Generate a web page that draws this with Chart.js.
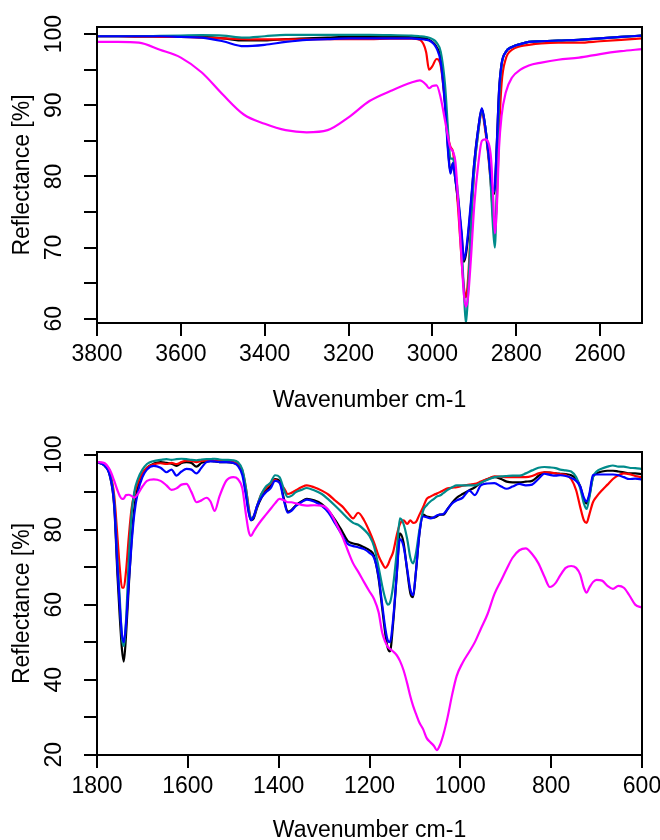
<!DOCTYPE html>
<html lang="en">
<head>
<meta charset="utf-8"/>
<title>Reflectance spectra</title>
<script src="https://cdn.jsdelivr.net/npm/chart.js@4"></script>
<style>
  html, body { margin: 0; padding: 0; background: #fff; overflow: hidden; }
  body { width: 660px; height: 840px; position: relative; }
  canvas { position: absolute; left: 0; }
  #topChart { top: 0; }
  #bottomChart { top: 420px; }
</style>
</head>
<body>
<canvas id="topChart" width="660" height="420"></canvas>
<canvas id="bottomChart" width="660" height="440"></canvas>
<script>
// ---- upper panel: C-H stretch region ----
const topWavenumbers = [3800, 3750, 3700, 3650, 3600, 3550, 3500, 3450, 3400, 3350,
  3300, 3250, 3200, 3150, 3100, 3050, 3030, 3015, 3008, 3000,
  2990, 2980, 2970, 2962, 2957, 2951, 2945, 2938, 2930, 2925,
  2920, 2915, 2908, 2900, 2890, 2882, 2874, 2866, 2860, 2855,
  2851, 2846, 2841, 2835, 2825, 2810, 2790, 2770, 2740, 2700,
  2650, 2600, 2550, 2500];
const topBlack = [99.7, 99.7, 99.7, 99.7, 99.7, 99.6, 99.4, 99.1, 99.1, 99.3,
  99.4, 99.5, 99.6, 99.6, 99.6, 99.6, 99.5, 99.4, 99.2, 98.9,
  98.2, 96.5, 90.5, 83.5, 80.6, 81.8, 79.5, 76.0, 71.5, 68.0,
  69.0, 71.5, 76.0, 82.0, 87.0, 89.5, 87.0, 83.0, 79.5, 77.5,
  78.5, 85.0, 92.0, 95.8, 97.5, 98.2, 98.6, 98.9, 99.0, 99.1,
  99.2, 99.4, 99.6, 99.8];
const topRed = [99.7, 99.7, 99.6, 99.6, 99.6, 99.5, 99.4, 99.3, 99.25, 99.25,
  99.25, 99.3, 99.3, 99.3, 99.35, 99.35, 99.2, 97.5, 95.0, 95.5,
  96.5, 95.5, 90.5, 85.5, 84.2, 83.5, 80.5, 75.0, 68.0, 64.5,
  63.0, 65.5, 73.0, 81.0, 86.5, 89.0, 86.5, 82.5, 78.5, 74.0,
  72.8, 77.0, 86.0, 93.0, 96.5, 97.8, 98.3, 98.5, 98.7, 98.8,
  98.8, 99.0, 99.2, 99.4];
const topTeal = [99.7, 99.7, 99.7, 99.75, 99.8, 99.85, 99.8, 99.5, 99.7, 99.9,
  99.9, 99.9, 99.9, 99.9, 99.85, 99.8, 99.7, 99.6, 99.5, 99.3,
  98.8, 97.5, 93.0, 86.0, 82.5, 82.5, 80.5, 77.0, 70.0, 64.0,
  59.3, 63.5, 73.0, 81.0, 86.5, 89.3, 87.0, 83.0, 78.0, 72.5,
  70.0, 79.0, 90.5, 95.5, 97.5, 98.2, 98.6, 98.9, 99.0, 99.1,
  99.2, 99.4, 99.6, 99.8];
const topBlue = [99.7, 99.7, 99.7, 99.7, 99.6, 99.5, 99.0, 98.3, 98.5, 98.9,
  99.2, 99.3, 99.4, 99.4, 99.4, 99.4, 99.3, 99.2, 99.1, 98.8,
  98.0, 96.0, 90.0, 83.0, 80.4, 81.9, 79.5, 76.5, 72.0, 68.3,
  69.5, 72.0, 76.5, 82.0, 87.0, 89.6, 87.0, 83.0, 79.5, 77.8,
  78.8, 85.0, 92.0, 95.8, 97.5, 98.2, 98.6, 98.9, 99.0, 99.1,
  99.2, 99.4, 99.6, 99.8];
const topMagenta = [98.9, 98.9, 98.8, 97.8, 96.7, 94.6, 91.5, 88.7, 87.4, 86.5,
  86.2, 86.5, 88.3, 90.6, 92.0, 93.2, 93.5, 92.9, 92.4, 92.7,
  92.8, 91.0, 87.9, 85.3, 84.0, 83.5, 82.0, 76.0, 68.0, 63.5,
  61.7, 63.0, 68.5, 76.0, 82.0, 85.0, 85.2, 84.7, 82.5, 77.0,
  72.0, 76.0, 84.0, 88.5, 91.8, 93.9, 95.0, 95.6, 96.0, 96.4,
  96.7, 97.2, 97.6, 97.9];
const topXTicks = [3800, 3600, 3400, 3200, 3000, 2800, 2600];
const topYTicks = [60, 65, 70, 75, 80, 85, 90, 95, 100];
const topYLabels = [60, 70, 80, 90, 100];

// ---- lower panel: fingerprint region ----
const bottomWavenumbers = [1800, 1785, 1772, 1762, 1755, 1750, 1745, 1741, 1736, 1730,
  1724, 1718, 1710, 1700, 1690, 1675, 1660, 1647, 1636, 1625,
  1614, 1603, 1592, 1581, 1570, 1559, 1550, 1541, 1530, 1515,
  1500, 1490, 1480, 1472, 1466, 1461, 1455, 1447, 1438, 1428,
  1418, 1408, 1398, 1388, 1380, 1372, 1362, 1350, 1338, 1322,
  1305, 1290, 1275, 1260, 1248, 1236, 1225, 1212, 1200, 1190,
  1180, 1172, 1165, 1160, 1155, 1148, 1140, 1133, 1125, 1117,
  1110, 1104, 1098, 1090, 1082, 1074, 1066, 1058, 1052, 1045,
  1037, 1028, 1018, 1008, 995, 980, 968, 955, 940, 925,
  910, 898, 885, 870, 856, 842, 828, 815, 803, 790,
  780, 768, 756, 745, 736, 728, 722, 716, 708, 700,
  688, 676, 664, 652, 640, 628, 615, 600];
const bottomBlack = [98.0, 97.2, 94.5, 86.0, 68.0, 57.0, 48.0, 44.8, 52.0, 65.0,
  77.0, 85.5, 91.5, 94.8, 96.5, 97.6, 98.0, 97.8, 97.6, 97.0,
  97.8, 98.0, 97.8, 96.8, 97.8, 98.2, 98.3, 98.2, 98.0, 98.0,
  97.8, 97.3, 95.5, 90.0, 85.0, 82.5, 83.0, 86.0, 88.5, 90.5,
  91.5, 93.5, 93.0, 88.0, 84.8, 85.2, 86.5, 87.5, 88.2, 87.8,
  86.8, 85.0, 82.5, 79.5, 77.0, 76.3, 76.0, 75.3, 74.5, 73.0,
  67.0, 59.0, 52.0, 48.5, 47.5, 55.0, 68.0, 79.0, 76.5, 69.0,
  63.0, 62.0, 68.5, 79.0, 84.0, 83.5, 83.3, 83.2, 83.5, 84.0,
  84.0, 85.5, 87.2, 88.5, 89.5, 90.5, 91.3, 92.5, 93.5, 94.0,
  93.5, 92.8, 92.6, 92.6, 92.8, 93.0, 94.3, 95.3, 95.2, 95.0,
  94.9, 94.8, 94.5, 93.5, 91.5, 88.0, 87.0, 89.0, 94.0, 95.0,
  95.5, 95.7, 95.7, 95.5, 95.3, 95.0, 95.0, 94.8];
const bottomRed = [98.0, 97.5, 95.5, 89.0, 78.0, 70.0, 64.5, 64.5, 69.0, 78.0,
  85.5, 89.5, 92.5, 95.0, 96.5, 97.4, 97.7, 97.5, 97.8, 97.5,
  98.0, 98.4, 98.3, 98.0, 98.3, 98.4, 98.5, 98.4, 98.3, 98.2,
  98.0, 97.5, 95.8, 91.0, 86.0, 83.0, 83.5, 86.5, 89.5, 91.0,
  92.3, 93.3, 92.5, 91.0, 89.5, 89.8, 90.5, 91.3, 91.8, 91.3,
  90.4, 89.3, 87.7, 86.2, 84.5, 83.0, 84.5, 82.5, 79.5, 76.5,
  73.0, 71.0, 69.8, 70.5, 72.0, 74.0, 78.5, 81.5, 82.5, 81.5,
  82.5, 81.8, 82.0, 84.0, 86.0, 88.2, 88.8, 89.3, 89.6, 90.0,
  90.5, 91.0, 91.2, 91.3, 91.7, 92.0, 92.2, 92.8, 93.5, 94.2,
  94.1, 94.0, 94.0, 94.0, 94.0, 94.3, 95.0, 95.3, 95.2, 95.0,
  94.8, 94.6, 93.5, 90.5, 86.0, 82.5, 81.8, 84.0, 87.3, 88.8,
  90.5, 92.0, 93.5, 94.5, 95.0, 94.8, 94.3, 94.0];
const bottomTeal = [98.0, 97.3, 95.0, 87.5, 72.0, 62.0, 51.0, 49.0, 56.0, 72.0,
  84.0, 90.0, 93.5, 96.0, 97.5, 98.3, 98.6, 98.8, 98.6, 98.8,
  98.9, 98.8, 98.6, 98.5, 98.7, 98.8, 98.8, 98.9, 98.7, 98.6,
  98.5, 98.0, 96.0, 91.0, 85.5, 83.0, 83.5, 86.5, 89.5, 91.5,
  92.5, 94.5, 94.0, 90.5, 88.7, 89.0, 90.0, 90.6, 91.1, 90.5,
  89.5, 88.0, 86.3, 84.5, 83.0, 81.8, 81.3, 80.0, 78.3, 75.5,
  70.0, 65.0, 61.5, 60.0, 60.5, 65.0, 74.0, 83.0, 81.5, 77.5,
  72.5, 71.0, 73.5, 80.0, 85.0, 86.5, 87.5, 88.2, 88.8, 89.1,
  89.8, 90.6, 91.3, 91.8, 91.8, 91.8, 91.8, 92.5, 93.3, 94.0,
  94.2, 94.3, 94.4, 94.4, 95.0, 95.8, 96.5, 96.7, 96.6, 96.4,
  96.0, 95.8, 95.5, 94.0, 91.0, 87.0, 85.5, 88.5, 94.0, 95.5,
  96.3, 96.8, 97.1, 96.8, 96.8, 96.5, 96.4, 96.2];
const bottomBlue = [98.0, 97.2, 94.5, 86.5, 70.0, 60.0, 52.0, 50.0, 55.0, 66.0,
  76.0, 84.0, 90.0, 94.0, 96.0, 97.0, 96.5, 95.3, 96.0, 94.4,
  95.5, 96.2, 96.0, 95.0, 96.5, 98.0, 98.2, 98.2, 98.0, 98.0,
  97.8, 97.0, 94.5, 89.0, 84.5, 82.5, 83.5, 86.5, 88.5, 90.0,
  91.0, 93.0, 92.5, 87.5, 84.5, 85.0, 86.3, 87.3, 88.0, 87.5,
  86.3, 84.5, 81.5, 78.5, 76.2, 75.6, 75.3, 74.8, 73.8, 72.5,
  67.5, 60.0, 53.5, 50.5, 50.0, 56.0, 68.0, 77.5, 75.5, 69.5,
  64.0, 62.5, 68.5, 79.0, 83.5, 83.3, 83.0, 83.3, 83.8, 84.0,
  84.2, 85.5, 87.0, 87.8, 88.5, 90.4, 89.2, 91.8, 92.3, 92.4,
  91.5, 90.9, 91.5, 92.2, 91.8, 92.0, 93.5, 94.9, 94.6, 94.4,
  94.5, 94.3, 93.8, 93.0, 91.5, 88.5, 87.5, 89.5, 94.5, 94.7,
  94.7, 94.7, 94.7, 94.5, 94.0, 93.5, 93.6, 93.4];
const bottomMagenta = [98.0, 97.8, 96.0, 93.0, 90.5, 89.0, 88.2, 88.3, 89.2, 89.3,
  89.0, 88.5, 89.5, 91.5, 93.0, 93.4, 93.0, 91.8, 90.6, 91.0,
  92.0, 92.2, 90.0, 87.3, 87.8, 88.5, 87.5, 85.0, 89.0, 93.1,
  94.0, 93.5, 91.0, 84.0, 79.5, 78.3, 79.5, 81.0, 82.5, 84.0,
  85.5, 87.0, 88.2, 87.8, 87.3, 87.3, 87.0, 86.6, 86.4, 86.5,
  86.4, 85.2, 82.0, 78.2, 74.5, 71.0, 68.8, 66.0, 63.5, 61.5,
  58.0, 52.5, 50.0, 48.8, 48.2, 47.5, 46.5, 45.0, 42.5, 39.0,
  35.5, 33.0, 31.0, 28.5, 26.8, 24.4, 23.3, 22.3, 21.2, 22.5,
  25.5, 30.0, 36.0, 41.0, 44.5, 47.5, 50.0, 53.5, 57.5, 62.8,
  66.5, 69.5, 72.5, 74.5, 75.0, 73.5, 71.0, 67.5, 64.7, 65.8,
  67.8, 69.8, 70.3, 69.8, 68.0, 64.5, 63.2, 64.5, 66.0, 66.6,
  66.4, 65.0, 64.2, 65.0, 64.5, 62.5, 60.0, 59.2];
const bottomXTicks = [1800, 1600, 1400, 1200, 1000, 800, 600];
const bottomYTicks = [20, 30, 40, 50, 60, 70, 80, 90, 100];
const bottomYLabels = [20, 40, 60, 80, 100];

const FONT = { family: "'Liberation Sans', Arial, sans-serif", size: 23 };

// R-style box round the plot region
const boxPlugin = {
  id: 'box',
  afterDraw(chart) {
    const { ctx, chartArea: a } = chart;
    ctx.save();
    ctx.strokeStyle = '#000';
    ctx.lineWidth = 2;
    ctx.strokeRect(a.left, a.top, a.right - a.left, a.bottom - a.top);
    ctx.restore();
  }
};

function line(xs, ys, color) {
  return {
    data: xs.map((x, i) => ({ x, y: ys[i] })),
    borderColor: color,
    borderWidth: 2.2,
    pointRadius: 0,
    fill: false,
    cubicInterpolationMode: 'monotone'
  };
}

function spectrum(id, p) {
  const axisGrid = { drawOnChartArea: false, drawTicks: true, tickLength: 13, color: '#000', tickColor: '#000', lineWidth: 2 };
  // first dataset is drawn last (on top)
  const datasets = [
    line(p.x, p.magenta, '#FF00FF'),
    line(p.x, p.blue, '#0000FF'),
    line(p.x, p.teal, '#008B8B'),
    line(p.x, p.red, '#FF0000'),
    line(p.x, p.black, '#000000')
  ];
  return new Chart(document.getElementById(id), {
    type: 'line',
    data: { datasets },
    options: {
      responsive: false,
      devicePixelRatio: 1,
      animation: false,
      events: [],
      layout: { padding: { left: 0, right: 18, top: p.padTop, bottom: 0 } },
      plugins: { legend: { display: false }, tooltip: { enabled: false } },
      scales: {
        x: {
          type: 'linear',
          reverse: true,
          min: p.xMin,
          max: p.xMax,
          afterBuildTicks: s => { s.ticks = p.xTicks.map(value => ({ value })); },
          afterFit: s => { s.height = p.xAxisHeight; s.paddingLeft = 0; s.paddingRight = 0; },
          grid: axisGrid,
          border: { display: false },
          ticks: { color: '#000', font: FONT, padding: 5, maxRotation: 0, autoSkip: false, callback: v => String(v) },
          title: { display: true, text: 'Wavenumber cm-1', color: '#000', font: FONT, padding: { top: 0, bottom: p.titlePad } }
        },
        y: {
          min: p.yMin,
          max: p.yMax,
          afterBuildTicks: s => { s.ticks = p.yTicks.map(value => ({ value })); },
          afterFit: s => { s.width = 97; s.paddingTop = 0; s.paddingBottom = 0; },
          grid: axisGrid,
          border: { display: false },
          ticks: {
            color: '#000', font: FONT, padding: 10, minRotation: 90, maxRotation: 90,
            crossAlign: 'center', autoSkip: false,
            callback: v => p.yLabels.includes(v) ? String(v) : ''
          },
          title: { display: true, text: 'Reflectance [%]', color: '#000', font: FONT, padding: { top: 9, bottom: 0 } }
        }
      }
    },
    plugins: [boxPlugin]
  });
}

spectrum('topChart', {
  x: topWavenumbers, black: topBlack, red: topRed, teal: topTeal, blue: topBlue, magenta: topMagenta,
  xMin: 2500, xMax: 3800, yMin: 59.4, yMax: 101.0,
  xTicks: topXTicks, yTicks: topYTicks, yLabels: topYLabels,
  padTop: 27, xAxisHeight: 97, titlePad: 6
});

spectrum('bottomChart', {
  x: bottomWavenumbers, black: bottomBlack, red: bottomRed, teal: bottomTeal, blue: bottomBlue, magenta: bottomMagenta,
  xMin: 600, xMax: 1800, yMin: 19.9, yMax: 100.7,
  xTicks: bottomXTicks, yTicks: bottomYTicks, yLabels: bottomYLabels,
  padTop: 32, xAxisHeight: 105, titlePad: 16
});
</script>
</body>
</html>
